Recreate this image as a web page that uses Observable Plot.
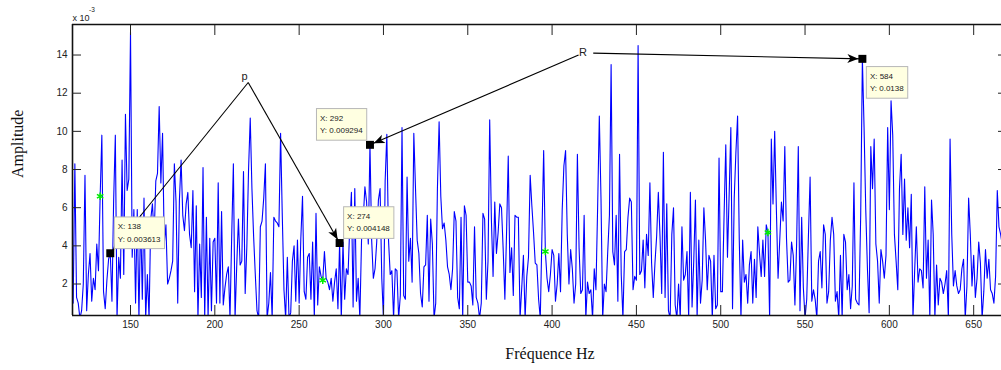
<!DOCTYPE html>
<html><head><meta charset="utf-8">
<script src="https://cdn.jsdelivr.net/npm/d3@7"></script>
<script src="https://cdn.jsdelivr.net/npm/@observablehq/plot@0.6"></script>
<style>html,body{margin:0;padding:0;background:#fff;} #chart{width:1001px;height:370px;}</style>
</head><body><div id="chart"></div>
<script>
// ---- data (amplitude in units of 1e-3, one value per Hz starting at freqStart) ----
const freqStart = 116;
const amplitude = [
 1.0, 8.3, 1.3, 1.0, 0.2, 0.6, 2.0, 7.7, 0.6, 2.5,
 3.6, 1.1, 2.3, 1.7, 4.1, 2.7, 6.6, 9.8, 1.6, 0.7,
 2.2, 3.3, 3.613, 1.1, 6.4, 9.8, 0.2, 3.4, 2.3, 8.5,
 2.5, 10.9, 6.9, 7.5, 15.2, 3.4, 5.9, 1.0, 5.9, 0.2,
 5.6, 1.2, 6.5, 0.2, 2.5, 0.2, 5.4, 6.2, 4.5, 7.4,
 7.8, 11.3, 7.3, 9.9, 4.1, 5.1, 2.0, 2.3, 2.7, 3.2,
 8.3, 6.3, 1.0, 6.4, 8.5, 5.6, 4.8, 6.2, 6.8, 4.6,
 3.9, 6.9, 1.6, 6.1, 0.2, 4.1, 1.3, 8.1, 0.2, 5.5,
 0.2, 4.4, 0.6, 4.2, 4.4, 1.0, 7.3, 1.0, 5.8, 0.9,
 1.8, 2.5, 2.9, 0.2, 4.5, 8.3, 0.2, 3.0, 5.4, 3.0,
 3.2, 7.9, 1.5, 4.0, 8.0, 10.7, 7.0, 4.5, 2.5, 0.6,
 0.2, 5.0, 5.3, 6.5, 8.3, 0.2, 1.0, 2.6, 0.2, 5.5,
 5.3, 5.2, 5.0, 9.9, 5.6, 1.7, 0.2, 3.4, 0.2, 0.5,
 3.2, 4.0, 1.1, 4.3, 1.0, 4.4, 6.6, 1.6, 1.2, 3.4,
 3.6, 1.2, 4.2, 0.2, 5.7, 0.9, 2.9, 2.4, 2.2, 3.7,
 2.3, 2.1, 1.7, 2.3, 1.1, 2.1, 2.8, 0.7, 4.148, 0.2,
 4.2, 1.2, 2.8, 2.5, 5.0, 6.8, 0.8, 7.0, 1.1, 2.3,
 0.2, 4.3, 5.4, 7.1, 6.3, 4.1, 9.294, 4.3, 2.3, 2.8,
 4.2, 6.4, 7.0, 2.3, 0.2, 7.4, 9.85, 4.3, 2.5, 2.7,
 0.2, 2.8, 2.7, 0.2, 1.4, 10.2, 1.4, 1.2, 7.6, 3.2,
 4.4, 2.1, 9.9, 7.0, 4.3, 3.6, 1.5, 0.8, 2.9, 3.0,
 5.6, 1.1, 5.4, 4.1, 0.2, 1.0, 7.0, 10.5, 6.6, 4.9,
 5.2, 4.3, 2.9, 2.5, 1.7, 2.8, 5.8, 5.3, 1.3, 0.7,
 5.5, 0.2, 6.1, 5.6, 2.1, 2.1, 1.9, 0.9, 5.0, 1.3,
 1.0, 0.2, 1.0, 5.7, 5.4, 1.2, 3.2, 10.6, 5.4, 2.4,
 6.3, 3.6, 4.7, 6.2, 6.0, 3.8, 1.2, 4.7, 8.7, 2.6,
 3.9, 1.4, 5.6, 5.5, 5.5, 0.2, 1.8, 3.5, 0.2, 2.4,
 3.4, 7.7, 6.1, 4.7, 3.1, 3.0, 1.2, 0.2, 4.7, 9.0,
 3.7, 2.3, 1.6, 2.5, 3.8, 3.5, 1.1, 2.0, 3.6, 1.6,
 5.9, 8.2, 9.0, 4.6, 2.0, 3.8, 2.8, 1.0, 2.0, 8.8,
 3.9, 1.5, 1.7, 5.6, 0.2, 2.1, 1.5, 1.7, 0.2, 2.8,
 1.7, 6.0, 10.8, 6.5, 0.2, 2.0, 1.6, 3.7, 5.6, 13.5,
 3.7, 3.0, 5.6, 1.1, 8.8, 2.5, 0.2, 3.7, 3.8, 5.5,
 6.5, 6.3, 1.7, 2.4, 2.2, 14.5, 2.5, 2.7, 4.3, 1.8,
 4.6, 3.5, 7.3, 3.1, 1.3, 3.1, 4.5, 6.8, 4.5, 1.5,
 8.9, 1.3, 6.2, 0.6, 0.2, 4.6, 6.0, 0.9, 0.2, 2.0,
 0.2, 5.0, 2.2, 2.5, 3.7, 0.2, 6.8, 0.8, 3.2, 6.4,
 0.2, 4.3, 1.0, 2.2, 6.0, 4.3, 1.7, 3.5, 3.2, 0.2,
 3.5, 0.7, 0.9, 8.6, 1.6, 1.6, 5.65, 9.3, 3.4, 6.7,
 10.2, 0.7, 6.5, 8.9, 10.8, 4.3, 0.2, 4.3, 2.1, 2.5,
 1.0, 3.0, 3.7, 1.0, 3.3, 1.3, 5.0, 3.6, 2.4, 4.3,
 2.4, 5.1, 4.7, 0.2, 9.6, 6.2, 10.0, 5.9, 2.3, 4.3,
 6.3, 5.3, 9.2, 4.4, 2.1, 2.2, 4.2, 3.5, 0.9, 4.1,
 9.2, 0.6, 5.5, 1.8, 0.2, 1.2, 4.5, 7.6, 1.1, 1.7,
 1.2, 0.2, 3.2, 3.7, 1.8, 5.1, 4.6, 1.0, 1.6, 4.3,
 5.5, 4.6, 1.1, 1.6, 0.2, 3.5, 0.2, 4.6, 4.2, 1.7,
 2.5, 0.7, 1.9, 7.3, 1.2, 1.0, 0.9, 5.6, 13.8, 10.2,
 5.9, 2.8, 0.5, 9.2, 7.0, 9.6, 4.1, 3.2, 1.0, 3.8,
 3.2, 2.3, 3.5, 10.2, 5.9, 11.6, 9.8, 4.6, 3.2, 1.7,
 7.0, 8.8, 4.6, 7.5, 4.3, 6.0, 3.9, 6.7, 0.2, 2.7,
 5.0, 2.1, 2.8, 2.7, 1.8, 7.1, 2.3, 4.3, 0.2, 6.4,
 4.6, 0.2, 3.0, 0.9, 2.3, 2.1, 1.5, 2.0, 2.7, 0.2,
 9.6, 4.6, 1.9, 2.7, 1.9, 1.5, 1.7, 2.8, 3.3, 0.2,
 1.9, 6.5, 4.6, 1.9, 3.5, 1.3, 2.3, 4.2, 3.1, 0.2,
 1.6, 3.8, 2.3, 3.3, 1.7, 1.5, 1.0, 2.4, 6.9, 5.0,
 4.6, 4.0
];
const xTicks = [150, 200, 250, 300, 350, 400, 450, 500, 550, 600, 650];
const yTicks = [2, 4, 6, 8, 10, 12, 14];
const tipFreqs = [138, 274, 292, 584];          // data tips
const harmonicFreqs = [132, 264, 396, 528];     // green markers
const annotationLabels = ["p", "R"];
const labelFreq = [217.6, 418.3];
const labelAmp = [12.86, 14.12];
const arrowFromFreq = [219.8, 219.8, 415.7, 424.4];
const arrowFromAmp = [12.56, 12.56, 14.0, 14.1];
const arrowToFreq = [138, 274, 292, 584];

// ---- layout / style ----
const xDomain = [115.6, 666.5];
const yDomain = [0.35, 15.6];
const tipPlacement = ["ne", "ne", "nw", "se"];
const placeOpts = {
  ne: {dx: 7.5, dy: -22, textAnchor: "start"},
  nw: {dx: -50, dy: -22, textAnchor: "start"},
  se: {dx: 7.5, dy: 22, textAnchor: "start"}
};

const series = amplitude.map((a, i) => ({f: freqStart + i, a}));
const ampAt = f => amplitude[f - freqStart];
const tips = tipFreqs.map((f, i) => ({
  f, a: ampAt(f), place: tipPlacement[i],
  label: `X: ${f}\nY: ${+(ampAt(f) / 1000).toPrecision(4)}`
}));
const harmonics = harmonicFreqs.map(f => ({f, a: ampAt(f)}));
const labels = annotationLabels.map((t, i) => ({t, f: labelFreq[i], a: labelAmp[i]}));
const arrows = arrowFromFreq.map((f, i) => ({x1: f, y1: arrowFromAmp[i], x2: arrowToFreq[i], y2: ampAt(arrowToFreq[i])}));

function solidArrow(color, context) {
  const m = d3.create("svg:marker")
    .attr("viewBox", "-16 -6 16 12").attr("markerWidth", 16).attr("markerHeight", 12)
    .attr("markerUnits", "userSpaceOnUse").attr("refX", 0).attr("refY", 0)
    .attr("orient", "auto").attr("fill", "black").attr("stroke", "none");
  m.append("path").attr("d", "M-15,-4.5L-4,0L-15,4.5L-12,0Z");
  return m.node();
}

const sansFont = "'Liberation Sans', Arial, sans-serif";
const serifFont = "'Liberation Serif', 'Times New Roman', serif";

function build(marker) {
  return Plot.plot({
    width: 1001, height: 370,
    marginLeft: 72, marginRight: 0, marginTop: 24, marginBottom: 55,
    style: {background: "#fff", fontFamily: sansFont, fontSize: "10px", color: "#222"},
    x: {domain: xDomain},
    y: {domain: yDomain},
    marks: [
      Plot.line(series, {x: "f", y: "a", stroke: "#0000ff", strokeWidth: 1.1, clip: true}),
      Plot.ruleX([xDomain[0]], {stroke: "#111", strokeWidth: 1.6}),
      Plot.ruleY([yDomain[0], yDomain[1]], {stroke: "#111", strokeWidth: 1.6}),
      Plot.axisX({anchor: "bottom", ticks: xTicks, tickSize: 0, tickPadding: 5, label: null, fontSize: 10}),
      Plot.axisX({anchor: "bottom", ticks: xTicks, tickSize: -10, tickFormat: () => "", label: null}),
      Plot.axisX({anchor: "top", ticks: xTicks, tickSize: -10, tickFormat: () => "", label: null}),
      Plot.axisY({anchor: "left", ticks: yTicks, tickSize: 0, tickPadding: 5, label: null, fontSize: 10}),
      Plot.axisY({anchor: "left", ticks: yTicks, tickSize: -9, tickFormat: () => "", label: null}),
      Plot.axisY({anchor: "right", ticks: yTicks, tickSize: -4, tickFormat: () => "", label: null}),
      Plot.dot(harmonics, {x: "f", y: "a", symbol: "asterisk", stroke: "#00ee00", r: 3.5, strokeWidth: 1.5}),
      Plot.link(arrows, {x1: "x1", y1: "y1", x2: "x2", y2: "y2", stroke: "black", strokeWidth: 1.1, markerEnd: marker}),
      Plot.dot(tips, {x: "f", y: "a", symbol: "square", fill: "black", r: 4.5}),
      ...tips.map(t => Plot.text([t], {x: "f", y: "a", text: "label", lineAnchor: "middle", lineHeight: 1.58,
        fontSize: 8, fill: "#222", className: "tiptext", ...placeOpts[t.place]})),
      Plot.text(labels, {x: "f", y: "a", text: "t", fontSize: 11, fill: "#222"}),
      Plot.text(["x 10"], {frameAnchor: "top-left", textAnchor: "start", dy: -10, fontSize: 9, fill: "#222"}),
      Plot.text(["-3"], {frameAnchor: "top-left", textAnchor: "start", dx: 16.5, dy: -17, fontSize: 6.5, fill: "#222"}),
      Plot.text(["Amplitude"], {frameAnchor: "left", rotate: -90, dx: -55, dy: 8, fontFamily: serifFont, fontSize: 16, fill: "#111"}),
      Plot.text(["Fréquence Hz"], {frameAnchor: "bottom", dx: 13, dy: 43, fontFamily: serifFont, fontSize: 16, fill: "#111"})
    ]
  });
}

let svg;
try { svg = build(solidArrow); } catch (e) { svg = build("arrow"); }
document.getElementById("chart").append(svg);

// data-tip boxes behind the tip texts
d3.select(svg).selectAll("g.tiptext text").each(function () {
  const b = this.getBBox();
  const r = document.createElementNS("http://www.w3.org/2000/svg", "rect");
  r.setAttribute("x", b.x - 3.5);
  r.setAttribute("y", b.y - 5);
  r.setAttribute("width", b.width + 7);
  r.setAttribute("height", b.height + 10);
  r.setAttribute("fill", "#ffffe1");
  r.setAttribute("stroke", "#b8b8b8");
  r.setAttribute("stroke-width", "1");
  const tr = this.getAttribute("transform");
  if (tr) r.setAttribute("transform", tr);
  this.parentNode.insertBefore(r, this);
});
</script>
</body></html>
